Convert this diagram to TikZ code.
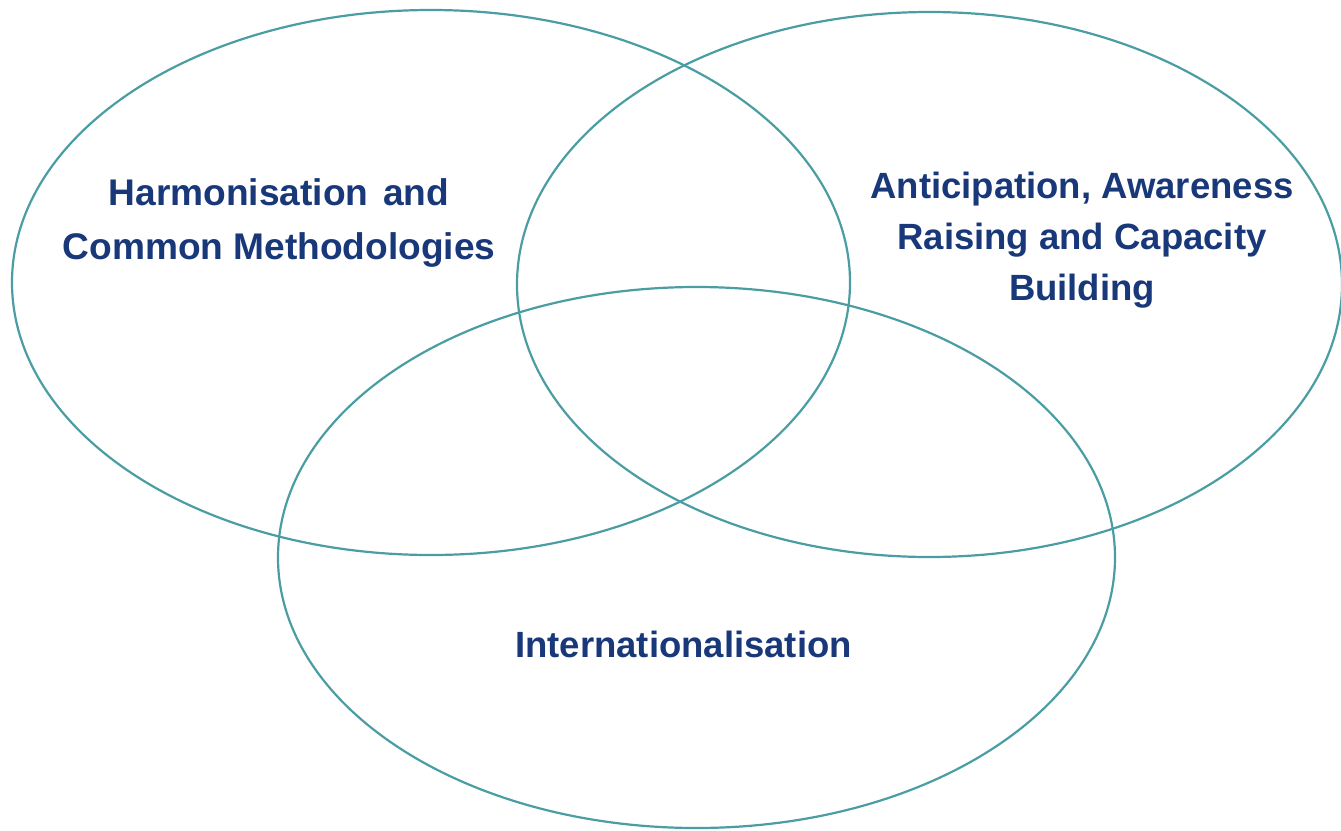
\documentclass[tikz,border=0pt]{standalone}
\usepackage{fontspec}
\setmainfont{Liberation Sans}
\definecolor{ringcol}{RGB}{74,158,163}
\definecolor{txtcol}{RGB}{24,56,122}
\begin{document}
\begin{tikzpicture}[x=1pt,y=-1pt,
  ring/.style={draw=ringcol,line width=2.2pt},
  lbl/.style={text=txtcol,font=\fontsize{36.5}{51}\selectfont\bfseries,align=center,inner sep=0pt,anchor=base}]
\useasboundingbox (0,0) rectangle (1341,830);
\fill[white] (0,0) rectangle (1341,830);
\draw[ring] (431,282.5) ellipse [x radius=419pt,y radius=272.5pt];
\draw[ring] (929.5,284.5) ellipse [x radius=412.5pt,y radius=272.5pt];
\draw[ring] (696.5,557.5) ellipse [x radius=418.5pt,y radius=270.5pt];
\node[lbl,font=\fontsize{37.1}{54}\selectfont\bfseries] (harm) at (279,259) {Harmonisation\hspace{0.12em} and\\Common Methodologies};
\node[lbl] (antic) at (1082,300) {Anticipation, Awareness\\Raising and Capacity\\Building};
\node[lbl] (intl) at (683.5,657) {Internationalisation};
\end{tikzpicture}
\end{document}
